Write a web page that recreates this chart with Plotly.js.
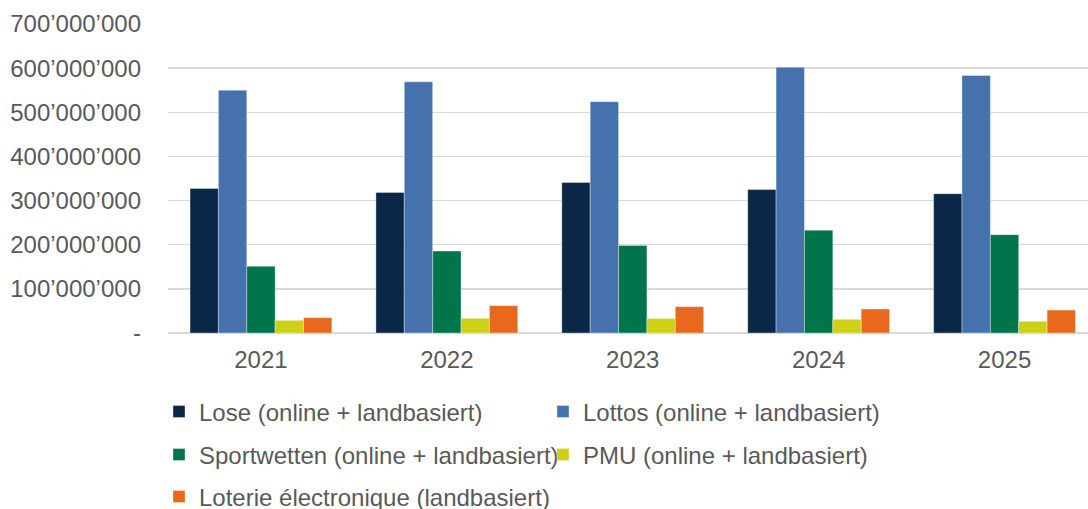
<!DOCTYPE html>
<html>
<head>
<meta charset="utf-8">
<script src="https://cdn.plot.ly/plotly-3.0.1.min.js"></script>
<style>html,body{margin:0;padding:0;background:#fff;}#chart{width:1088px;height:509px;}</style>
</head>
<body>
<div id="chart"></div>
<script>
var years = ['2021', '2022', '2023', '2024', '2025'];
var seriesNames = [
  'Lose (online + landbasiert)',
  'Lottos (online + landbasiert)',
  'Sportwetten (online + landbasiert)',
  'PMU (online + landbasiert)',
  'Loterie électronique (landbasiert)'
];
var lose = [327600000, 318500000, 341000000, 325000000, 315500000];
var lottos = [550000000, 569000000, 524000000, 602000000, 583400000];
var sportwetten = [151000000, 185700000, 198500000, 233000000, 222700000];
var pmu = [28800000, 33300000, 33000000, 31000000, 26500000];
var loterie = [34800000, 62000000, 59700000, 54400000, 52000000];
var yTickVals = [0, 100000000, 200000000, 300000000, 400000000, 500000000, 600000000, 700000000];
var yTickText = ['-', '100’000’000', '200’000’000', '300’000’000', '400’000’000', '500’000’000', '600’000’000', '700’000’000'];

var colors = ['#0b2747', '#4571ad', '#00744a', '#cdd017', '#e8691e'];
var values = [lose, lottos, sportwetten, pmu, loterie];
var legendIds = ['legend', 'legend', 'legend2', 'legend2', 'legend3'];

var traces = values.map(function (v, i) {
  return {
    type: 'bar',
    x: years,
    y: v,
    name: seriesNames[i],
    legend: legendIds[i],
    marker: {color: colors[i], line: {color: 'rgba(255,255,255,0.6)', width: 0.6}},
    hoverinfo: 'x+y+name'
  };
});

function legendAt(yPx, useEntryWidth) {
  var lg = {
    orientation: 'h',
    xref: 'container', yref: 'container',
    x: 159 / 1088, xanchor: 'left',
    y: 1 - yPx / 509, yanchor: 'middle',
    font: {family: 'Liberation Sans, Arial, sans-serif', size: 24, color: '#595959'},
    itemclick: false, itemdoubleclick: false,
    bgcolor: 'rgba(0,0,0,0)',
    traceorder: 'normal'
  };
  if (useEntryWidth) lg.entrywidth = 339;
  return lg;
}

var layout = {
  width: 1088, height: 509,
  margin: {l: 167.5, r: 0, t: 23.5, b: 176.3, pad: 0},
  paper_bgcolor: '#ffffff', plot_bgcolor: '#ffffff',
  font: {family: 'Liberation Sans, Arial, sans-serif', size: 24, color: '#595959'},
  barmode: 'group',
  bargap: 0.237,
  bargroupgap: 0,
  showlegend: true,
  xaxis: {
    type: 'category',
    range: [-0.5, 4.449],
    showgrid: false,
    showline: false,
    zeroline: false,
    ticks: '',
    tickfont: {size: 24, color: '#595959'},
    ticklabelstandoff: 10,
    fixedrange: true
  },
  yaxis: {
    range: [0, 700000000],
    tickvals: yTickVals,
    ticktext: yTickText,
    showgrid: true,
    gridcolor: '#d9d9d9',
    gridwidth: 1.3,
    zeroline: true,
    zerolinecolor: '#d9d9d9',
    zerolinewidth: 1.3,
    showline: false,
    ticks: '',
    tickfont: {size: 24, color: '#595959'},
    ticklabelstandoff: 26,
    fixedrange: true
  },
  legend: legendAt(412, true),
  legend2: legendAt(455, true),
  legend3: legendAt(497, false)
};

Plotly.newPlot('chart', traces, layout, {displayModeBar: false, staticPlot: true});
</script>
</body>
</html>
